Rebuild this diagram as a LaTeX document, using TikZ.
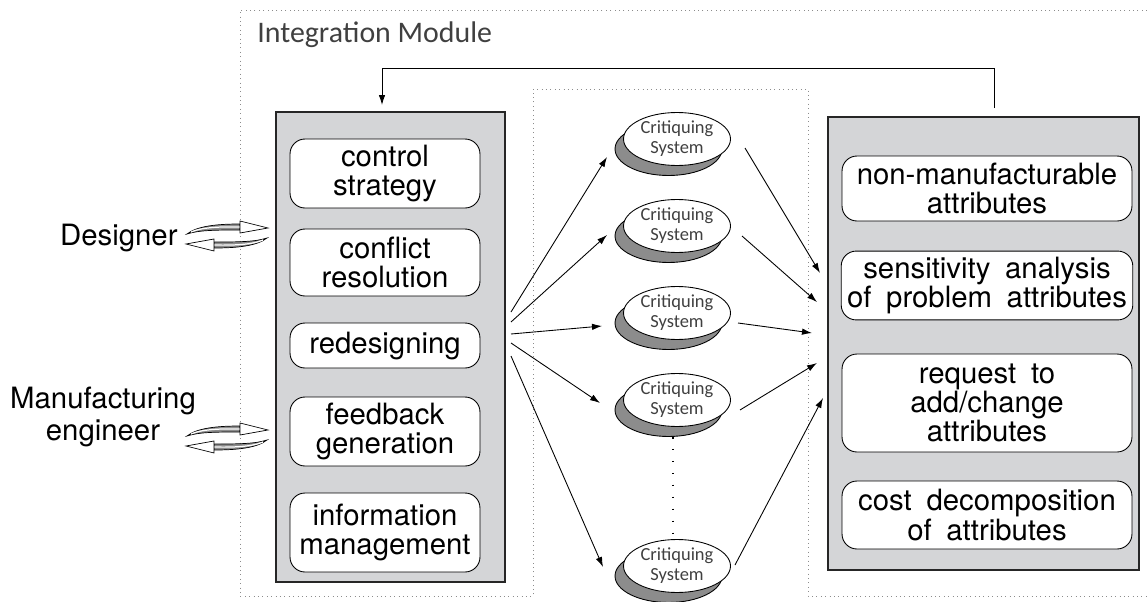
\documentclass[tikz,border=0pt]{standalone}
\usepackage{fontspec}
\setmainfont{TeX Gyre Heros}
\newfontfamily\handfont{Carlito}
\usetikzlibrary{arrows.meta,shapes.geometric,shadows,calc}
\definecolor{panelgray}{RGB}{212,213,215}
\definecolor{shadegray}{RGB}{140,140,140}
\newcommand{\widespace}{\spaceskip 0.5em\relax}
\tikzstyle{panel} = [draw=black!85, line width=0.8pt, fill=panelgray]
\tikzstyle{task} = [draw, line width=0.5pt, fill=white, rounded corners=0.3cm, align=center, font=\fontsize{16.7}{16.7}\selectfont\widespace]
\tikzstyle{critic} = [ellipse, draw, line width=0.5pt, fill=white, minimum width=2.14cm, minimum height=1.06cm, inner sep=0pt, align=center, font=\handfont\fontsize{10.5}{11.3}\selectfont, text=black!75, drop shadow={shadow xshift=-0.17cm, shadow yshift=-0.2cm, fill=shadegray, opacity=1, draw=black, line width=0.5pt}]
\tikzstyle{module} = [draw=black!45, dotted, line width=0.5pt]
\tikzset{
  swoosh/.pic={
    \foreach \turn in {0,180}{
      \begin{scope}[rotate=\turn]
        \filldraw[fill=shadegray, draw=black, line width=0.4pt] (-40,-2) .. controls (-30,-10) and (-10,-12) .. (13,-12) -- (13,-6) .. controls (-10,-6) and (-28,-6) .. (-40,-2) -- cycle;
        \draw[white, line width=0.7pt] (-36,-4) .. controls (-26,-8.5) and (-8,-9.5) .. (13,-9);
        \filldraw[fill=white, draw=black, line width=0.4pt] (13,-15) -- (41,-8) -- (13,-3) -- cycle;
      \end{scope}
    }
  }
}

\begin{document}
\begin{tikzpicture}[x=0.02cm, y=-0.02cm, >={Latex[length=2mm,width=1.3mm]}, line width=0.5pt]
\useasboundingbox (0,0) rectangle (1147,602);
% module outline
\draw[module] (1147,10) -- (240,10) -- (240,596) -- (533,596) -- (533,89) -- (808,89) -- (808,596) -- (1147,596);
\node[anchor=base west, inner sep=0pt, font=\handfont\fontsize{17}{17}\selectfont, text=black!75] (title) at (257,42) {Integration Module};

% users
\node[anchor=base east, inner sep=0pt, font=\fontsize{16.7}{16.7}\selectfont] (designer) at (178,245) {Designer};
\node[anchor=north, inner sep=0pt, align=center, font=\fontsize{16.7}{18.1}\selectfont] (maneng) at (103,387) {Manufacturing\\engineer};
\pic at (227,236) {swoosh};
\pic at (227,438) {swoosh};

% left panel
\node[panel, minimum width=4.58cm, minimum height=9.4cm] (lpanel) at (390.5,347) {};
\node[task, minimum width=3.8cm, minimum height=1.38cm] (ctrl) at (385,173.5) {control\\strategy};
\node[task, minimum width=3.8cm, minimum height=1.34cm] (conflict) at (385,262.5) {conflict\\resolution};
\node[task, minimum width=3.8cm, minimum height=0.9cm] (redesign) at (385,345.5) {redesigning};
\node[task, minimum width=3.8cm, minimum height=1.38cm] (feedback) at (385,431.5) {feedback\\generation};
\node[task, minimum width=3.8cm, minimum height=1.58cm] (info) at (385,532.5) {information\\management};

% right panel
\node[panel, minimum width=6.22cm, minimum height=9.06cm] (rpanel) at (983.5,343.5) {};
\node[task, minimum width=5.8cm, minimum height=1.3cm] (nonman) at (987,188.5) {non-manufacturable\\attributes};
\node[task, minimum width=5.8cm, minimum height=1.3cm] (sens) at (987,285.5) {sensitivity analysis\\of problem attributes};
\node[task, minimum width=5.8cm, minimum height=1.96cm] (request) at (987,403) {request to\\add/change\\attributes};
\node[task, minimum width=5.8cm, minimum height=1.36cm] (cost) at (987,515) {cost decomposition\\of attributes};

% critiquing systems
\node[critic] (cs1) at (677,139) {Critiquing\\System};
\node[critic] (cs2) at (677,226) {Critiquing\\System};
\node[critic] (cs3) at (677,313) {Critiquing\\System};
\node[critic] (cs4) at (677,400) {Critiquing\\System};
\node[critic] (cs5) at (677,566) {Critiquing\\System};
\draw[dash pattern=on 0.9pt off 5.9pt, line width=0.9pt] ($(cs4.south)+(-4,10)$) -- ($(cs5.north)+(-4,-3)$);

% fan out
\coordinate (o1) at (511,312);
\coordinate (o2) at (511,322);
\coordinate (o3) at (511,334);
\coordinate (o4) at (511,343);
\coordinate (o5) at (511,356);
\draw[->] (o1) -- ($(cs1)+(-70,18)$);
\draw[->] (o2) -- ($(cs2)+(-70,9)$);
\draw[->] (o3) -- ($(cs3)+(-75,13)$);
\draw[->] (o4) -- ($(cs4)+(-77,3)$);
\draw[->] (o5) -- ($(cs5)+(-74,1)$);

% fan in
\coordinate (r1) at (820,273);
\coordinate (r2) at (817,302);
\coordinate (r3) at (812,333);
\coordinate (r4) at (817,363);
\coordinate (r5) at (823,398);
\draw[->] ($(cs1)+(68,9)$) -- (r1);
\draw[->] ($(cs2)+(65,10)$) -- (r2);
\draw[->] ($(cs3)+(61,10)$) -- (r3);
\draw[->] ($(cs4)+(63,10)$) -- (r4);
\draw[->] ($(cs5)+(58,-1)$) -- (r5);

% feedback loop
\coordinate (fbout) at (994,108);
\coordinate (fbin) at (382,105);
\draw[->] (fbout) -- (994,68) -| (fbin);
\end{tikzpicture}
\end{document}
